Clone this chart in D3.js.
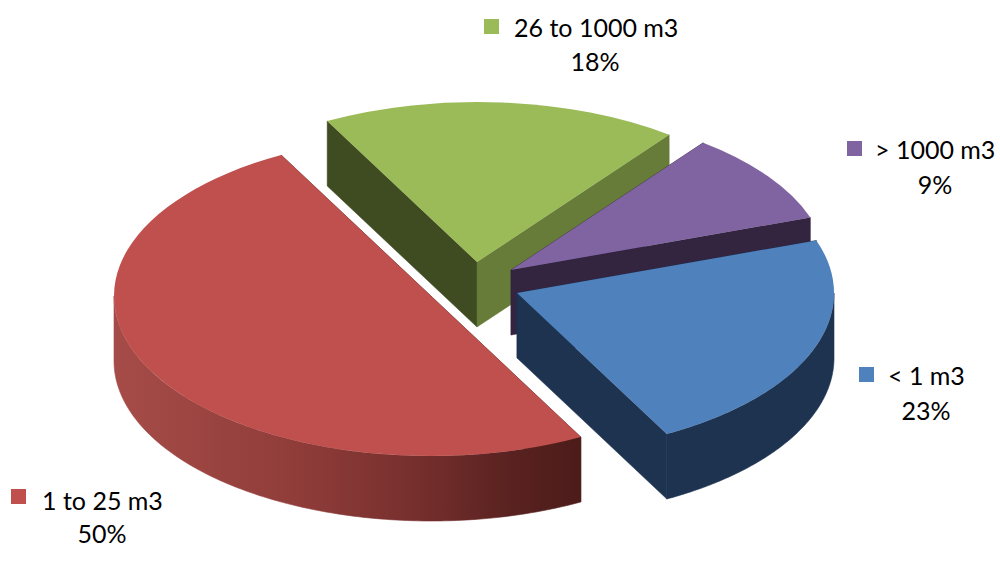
<!DOCTYPE html>
<html>
<head>
<meta charset="utf-8">
<script src="https://cdn.jsdelivr.net/npm/d3@7"></script>
<style>
html,body{margin:0;padding:0;background:#fff;overflow:hidden}
text{font-family:Lato,"Open Sans",sans-serif;fill:#000}
</style>
</head>
<body>
<svg id="chart" width="1000" height="568"></svg>
<script>
const categories = ["< 1 m3", "1 to 25 m3", "26 to 1000 m3", "> 1000 m3"];
const shares = [22.5, 50, 18.2, 9.3];
const topColors = ["#4f81bd", "#c0504d", "#9bbb59", "#8064a2"];

const rx = 317, ry = 160, depth = 65;
const startDeg = 70.8;
const layout = [
  {cx:517, cy:293, edgeA:"#1d3350", edgeB:"#1d3350", wall:"#1d3350", lx:926, sq:[859,367], ty:385, py:420, tx:888},
  {cx:431, cy:296, edgeA:"#4f1c1a", edgeB:"#4f1c1a", wall:"url(#redWall)", lx:102, sq:[11,489], ty:510, py:543, tx:42},
  {cx:477, cy:262, edgeA:"#3f4b20", edgeB:"#667c38", wall:"#667c38", lx:595, sq:[484,19], ty:37, py:71, tx:514},
  {cx:511, cy:270, edgeA:"#33243f", edgeB:"#33243f", wall:"#33243f", lx:935, sq:[847,141], ty:159, py:194, tx:875}
];
const drawOrder = [2, 3, 0, 1];

const svg = d3.select("#chart");
const grad = svg.append("defs").append("linearGradient")
  .attr("id","redWall").attr("gradientUnits","userSpaceOnUse")
  .attr("x1",114).attr("x2",581).attr("y1",0).attr("y2",0);
[[0,"#a64c48"],[0.4,"#8f3c39"],[0.65,"#762f2d"],[0.85,"#592220"],[1,"#4c1c1a"]]
  .forEach(([o,c]) => grad.append("stop").attr("offset",o).attr("stop-color",c));

const pie = d3.pie().sort(null)
  .startAngle(startDeg*Math.PI/180)
  .endAngle(startDeg*Math.PI/180 + 2*Math.PI);
const arcs = pie(shares);
const arcGen = d3.arc().innerRadius(0).outerRadius(rx);
const line = d3.line();

const at = (l,t,dz=0) => [l.cx + rx*Math.sin(t), l.cy - ry*Math.cos(t) + dz];

drawOrder.forEach(i => {
  const a = arcs[i], l = layout[i];
  const g = svg.append("g");
  const c = [l.cx,l.cy];
  const quad = (t,fill) => g.append("path")
    .attr("d", line([c, at(l,t), at(l,t,depth), [l.cx,l.cy+depth]])+"Z")
    .attr("fill",fill).attr("stroke",fill).attr("stroke-width",0.5);
  quad(a.startAngle, l.edgeA);
  quad(a.endAngle, l.edgeB);
  // only the front half of the rim faces the viewer
  const lo = Math.max(a.startAngle, Math.PI/2), hi = Math.min(a.endAngle, 3*Math.PI/2);
  if (hi > lo) {
    const steps = d3.range(0,121).map(k => lo + (hi-lo)*k/120);
    const wallPts = steps.map(t=>at(l,t)).concat(steps.slice().reverse().map(t=>at(l,t,depth)));
    g.append("path").attr("d",line(wallPts)+"Z").attr("fill",l.wall)
      .attr("stroke",l.wall).attr("stroke-width",0.6);
  }
  g.append("path")
    .attr("d",arcGen(a))
    .attr("transform",`translate(${l.cx},${l.cy}) scale(1,${ry/rx})`)
    .attr("fill",topColors[i]);
});

categories.forEach((name,i) => {
  const l = layout[i];
  svg.append("rect").attr("x",l.sq[0]).attr("y",l.sq[1]).attr("width",15).attr("height",15)
    .attr("fill",topColors[i]);
  svg.append("text").attr("x",l.tx).attr("y",l.ty).attr("font-size",25).text(name);
  svg.append("text").attr("x",l.lx).attr("y",l.py).attr("font-size",25)
    .attr("text-anchor","middle").text(Math.round(shares[i])+"%");
});
</script>
</body>
</html>
